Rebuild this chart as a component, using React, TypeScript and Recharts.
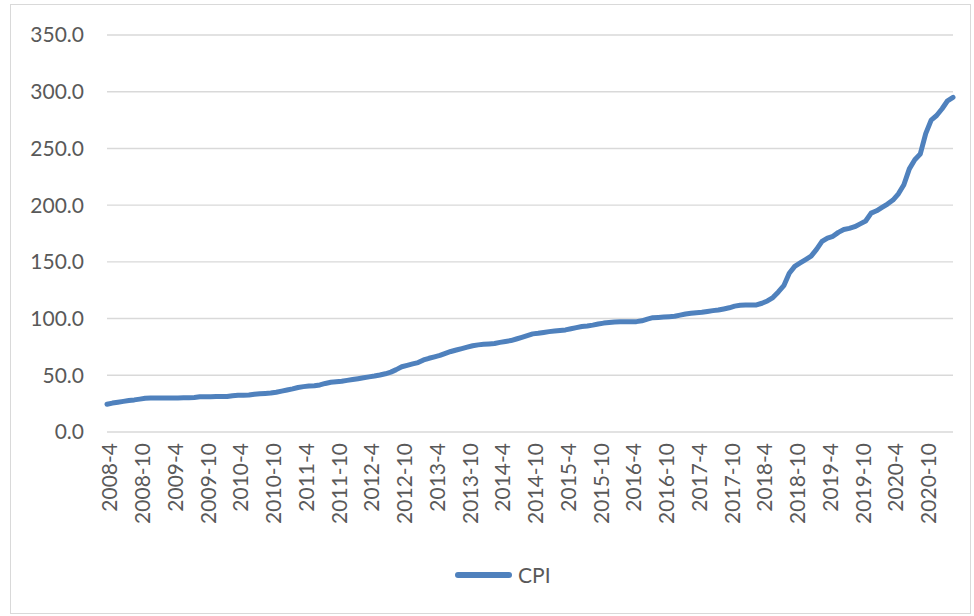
import { LineChart, Line, XAxis, YAxis, CartesianGrid, Legend } from 'recharts';

// month labels, April 2008 .. March 2021
const startYear = 2008;
const startMonth = 4;
const monthCount = 156;

const months: string[] = [];
for (let k = 0; k < monthCount; k++) {
    const m = startMonth - 1 + k;
    months.push(`${startYear + Math.floor(m / 12)}-${(m % 12) + 1}`);
}

// CPI, one row per April..March year
const cpiValues = [
    24.5, 25.5, 26.2, 27.0, 27.8, 28.3, 29.0, 29.8, 30.0, 30.0, 30.0, 30.0,
    30.0, 30.0, 30.1, 30.2, 30.5, 31.0, 31.1, 31.1, 31.2, 31.2, 31.3, 32.0,
    32.4, 32.5, 32.6, 33.3, 33.8, 34.0, 34.3, 35.0, 36.0, 37.0, 38.0, 39.2,
    40.0, 40.5, 40.8, 41.5, 42.8, 43.8, 44.3, 44.8, 45.5, 46.3, 47.0, 47.8,
    48.6, 49.3, 50.2, 51.3, 52.8, 55.0, 57.5, 58.8, 60.0, 61.2, 63.5, 65.0,
    66.3, 67.5, 69.3, 71.0, 72.3, 73.5, 74.8, 76.0, 76.8, 77.3, 77.6, 78.0,
    79.0, 79.8, 80.6, 82.0, 83.5, 85.0, 86.5, 87.0, 87.8, 88.5, 89.0, 89.5,
    90.0, 91.0, 92.0, 93.0, 93.5, 94.2, 95.2, 96.0, 96.5, 97.0, 97.2, 97.3,
    97.3, 97.3, 98.0, 99.5, 100.8, 101.0, 101.3, 101.6, 102.0, 103.0, 104.0, 104.6,
    105.2, 105.5, 106.3, 107.0, 107.6, 108.5, 109.5, 111.0, 111.8, 112.0, 112.0, 112.0,
    113.5, 115.5, 118.5, 123.5, 129.0, 140.0, 146.0, 149.0, 152.0, 155.0, 161.0, 168.0,
    171.0, 172.5, 176.0, 178.5, 179.5, 181.0, 183.5, 186.0, 193.0, 195.0, 198.0, 201.0,
    204.5, 210.0, 218.0, 232.0, 240.0, 245.0, 263.0, 275.0, 279.0, 285.0, 292.0, 295.0,
];

const yTicks = [0, 50, 100, 150, 200, 250, 300, 350];

const data = months.map((month, i) => ({ month, CPI: cpiValues[i] }));

const LABEL = '#595959';
const BLUE = '#4F81BD';

const MonthTick = ({ x, y, payload }: any) => (
    <text
        x={x + 3}
        y={y + 11}
        dy="0.35em"
        transform={`rotate(-90, ${x + 3}, ${y + 11})`}
        textAnchor="end"
        fill={LABEL}
        fontSize={21}
    >
        {payload.value}
    </text>
);

const CpiLegend = () => (
    <div style={{ position: 'relative', width: 959, height: 30 }}>
        <div
            style={{
                position: 'absolute',
                left: 444,
                top: 12,
                width: 57,
                height: 6,
                borderRadius: 3,
                background: BLUE,
            }}
        />
        <span
            style={{
                position: 'absolute',
                left: 507,
                top: 1,
                fontSize: 21,
                lineHeight: '28px',
                color: LABEL,
            }}
        >
            CPI
        </span>
    </div>
);

export default function App() {
    return (
        <div
            style={{
                position: 'absolute',
                left: 10,
                top: 4,
                width: 961,
                height: 610,
                boxSizing: 'border-box',
                border: '1px solid #d9d9d9',
                background: '#fff',
                fontFamily: 'Lato, "Open Sans", sans-serif',
            }}
        >
            <LineChart
                width={959}
                height={608}
                data={data}
                margin={{ top: 30, right: 17, left: 0, bottom: 23 }}
            >
                <CartesianGrid vertical={false} stroke="#d9d9d9" strokeWidth={1.4} />
                <XAxis
                    dataKey="month"
                    interval={5}
                    height={128}
                    axisLine={false}
                    tickLine={false}
                    tickSize={0}
                    tickMargin={0}
                    tick={<MonthTick />}
                />
                <YAxis
                    domain={[0, 350]}
                    ticks={yTicks}
                    width={96}
                    axisLine={false}
                    tickLine={false}
                    tickSize={0}
                    tickMargin={23}
                    tickFormatter={(v: number) => v.toFixed(1)}
                    tick={{ fill: LABEL, fontSize: 21 }}
                />
                <Legend
                    verticalAlign="bottom"
                    height={30}
                    wrapperStyle={{ left: 0, width: 959 }}
                    content={<CpiLegend />}
                />
                <Line
                    type="linear"
                    dataKey="CPI"
                    stroke={BLUE}
                    strokeWidth={5}
                    strokeLinecap="round"
                    strokeLinejoin="round"
                    dot={false}
                    activeDot={false}
                    isAnimationActive={false}
                />
            </LineChart>
        </div>
    );
}
